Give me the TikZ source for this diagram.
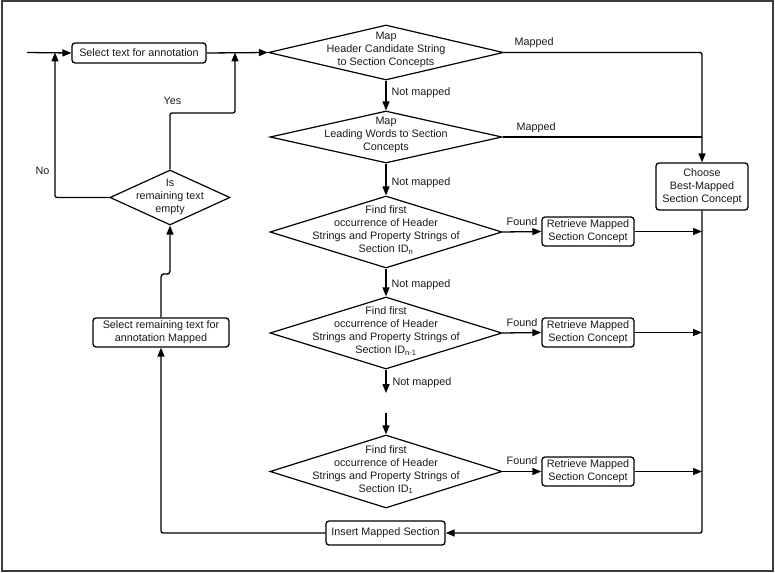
\documentclass[tikz,border=0pt]{standalone}
\usepackage{fontspec}
\setmainfont{Liberation Sans}
\usetikzlibrary{shapes.geometric,arrows.meta}
\definecolor{ink}{HTML}{1A1A1A}
\definecolor{frame}{HTML}{3C3C3C}
\begin{document}
\begin{tikzpicture}[x=1pt,y=-1pt,
  font=\fontsize{10.8}{13}\selectfont, text=ink,
  line width=1.3pt,
  >={Triangle[length=9pt,width=7pt]},
  conn/.style={->, rounded corners=2pt},
  plain/.style={rounded corners=2pt},
  proc/.style={draw, rounded corners=3pt, fill=white, align=center, inner sep=0pt},
  dia/.style={draw, diamond, inner sep=0pt, line width=1.2pt},
  dtext/.style={align=center, inner sep=0pt},
  lab/.style={inner sep=0pt, anchor=west},
]
\useasboundingbox (0,0) rectangle (775,572);
\draw[frame, line width=2pt] (1.5,1.5) rectangle (773,570.5);

% process boxes
\node[proc, minimum width=134pt, minimum height=20pt] (sel) at (139,53) {Select text for annotation};
\node[proc, minimum width=92pt, minimum height=47pt] (choose) at (702,186.5) {Choose\\Best-Mapped\\Section Concept};
\node[proc, minimum width=92pt, minimum height=29pt] (r1) at (588,231.5) {Retrieve Mapped\\Section Concept};
\node[proc, minimum width=92pt, minimum height=29pt] (r2) at (588,332.5) {Retrieve Mapped\\Section Concept};
\node[proc, minimum width=92pt, minimum height=29pt] (r3) at (588,471.5) {Retrieve Mapped\\Section Concept};
\node[proc, minimum width=119pt, minimum height=24pt] (ins) at (385.5,533) {Insert Mapped Section};
\node[proc, minimum width=136pt, minimum height=29pt] (rem) at (161,332.5) {Select remaining text for\\annotation Mapped};

% decisions
\node[dia, minimum width=235pt, minimum height=55pt,
  label={[dtext, yshift=3pt]center:Map\\Header Candidate String\\to Section Concepts}] (d1) at (386,52.5) {};
\node[dia, minimum width=232pt, minimum height=52pt,
  label={[dtext, yshift=2pt]center:Map\\Leading Words to Section\\Concepts}] (d2) at (386,137) {};
\node[dia, minimum width=232pt, minimum height=72pt,
  label={[dtext, yshift=2pt]center:Find first\\occurrence of Header\\Strings and Property Strings of\\Section ID\textsubscript{n}}] (d3) at (386,232) {};
\node[dia, minimum width=232pt, minimum height=72pt,
  label={[dtext, yshift=2pt]center:Find first\\occurrence of Header\\Strings and Property Strings of\\Section ID\textsubscript{n-1}}] (d4) at (386,333) {};
\node[dia, minimum width=232pt, minimum height=73pt,
  label={[dtext, yshift=2pt]center:Find first\\occurrence of Header\\Strings and Property Strings of\\Section ID\textsubscript{1}}] (d5) at (386,471.5) {};
\node[dia, minimum width=120pt, minimum height=55pt,
  label={[dtext, yshift=1pt]center:Is\\remaining text\\empty}] (is) at (170,197.5) {};

% junction coordinates
\coordinate (in) at (27,52.5);
\coordinate (jno) at (55,52.5);
\coordinate (jyes) at (235,52.5);
\coordinate (yesbend) at (170,113);
\coordinate (gap1) at (386,393);
\coordinate (gap2) at (386,413);
\coordinate (bot) at (702,533);
\coordinate (jog) at (165.5,274);

% connectors
\draw[conn] (in) -- (sel.west);
\draw[conn] (sel.east) -- (d1.west);
\draw[conn] (d1.east) -| (choose.north);
\draw[plain] (d2.east) -- (d2.east -| choose.north);
\draw[conn] (d1.south) -- (d2.north);
\draw[conn] (d2.south) -- (d3.north);
\draw[conn] (d3.south) -- (d4.north);
\draw[conn] (d4.south) -- (gap1);
\draw[conn] (gap2) -- (d5.north);
\draw[conn] (d3.east) -- (r1.west);
\draw[conn] (d4.east) -- (r2.west);
\draw[conn] (d5.east) -- (r3.west);
\draw[conn] (r1.east) -- (r1.east -| choose.south);
\draw[conn] (r2.east) -- (r2.east -| choose.south);
\draw[conn] (r3.east) -- (r3.east -| choose.south);
\draw[conn] (choose.south) -- (bot) -- (ins.east);
\draw[conn] (ins.west) -| (rem.south);
\draw[conn, rounded corners=3pt] (rem.north) |- (jog) -| (is.south);
\draw[conn] (is.west) -| (jno);
\draw[conn] (is.north) -- (yesbend) -| (jyes);

% connector labels
\node[lab] (lm1) at (514,43) {Mapped};
\node[lab] (lm2) at (516,128) {Mapped};
\node[lab] (ln1) at (391,93) {Not mapped};
\node[lab] (ln2) at (391,183) {Not mapped};
\node[lab] (ln3) at (391,285) {Not mapped};
\node[lab] (ln4) at (392,383) {Not mapped};
\node[lab] (lf1) at (506,222) {Found};
\node[lab] (lf2) at (506,323) {Found};
\node[lab] (lf3) at (506,461) {Found};
\node[lab] (lno) at (35,171) {No};
\node[lab] (lyes) at (163,101) {Yes};
\end{tikzpicture}
\end{document}
